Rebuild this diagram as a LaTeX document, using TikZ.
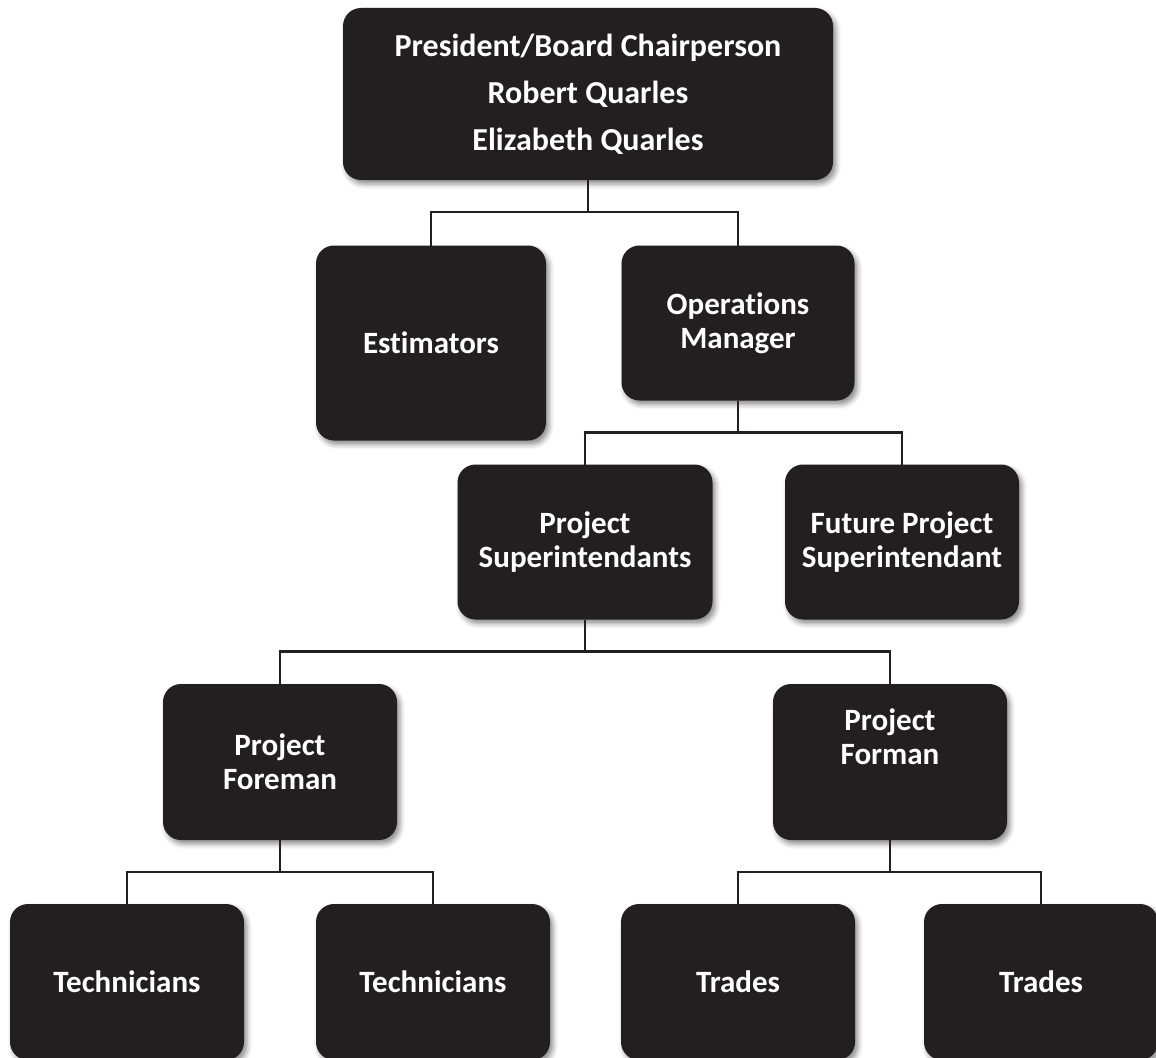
\documentclass[tikz,border=0pt]{standalone}
\usepackage{fontspec}
\setmainfont{Carlito}[Ligatures=NoCommon]
\usepackage{tikz}
\usetikzlibrary{shadows.blur}
\definecolor{boxblack}{HTML}{231F20}

\begin{document}
\begin{tikzpicture}[x=1pt, y=-1pt,
        orgbox/.style={shape=rectangle, rounded corners=18pt, fill=boxblack, inner sep=0pt, outer sep=0pt,
            blur shadow={shadow xshift=3pt, shadow yshift=-4pt, shadow blur radius=5pt, shadow opacity=45}},
        orgtext/.style={text=white, font=\fontsize{31}{34}\selectfont\bfseries, align=center},
        link/.style={draw=boxblack, line width=2.5pt}]
        \useasboundingbox (0, 0) rectangle (1156, 1057);

        \node[orgbox, minimum width=490pt, minimum height=172pt] (B1) at (588, 94) {};
        \node[orgtext, font=\fontsize{32}{47}\selectfont\bfseries] (T1) at (B1) {President/Board Chairperson\\Robert Quarles\\Elizabeth Quarles};

        \node[orgbox, minimum width=230pt, minimum height=195pt] (B2) at (431, 343) {};
        \node[orgtext] (T2) at (B2) {Estimators};
        \node[orgbox, minimum width=233pt, minimum height=155pt] (B3) at (738, 323) {};
        \node[orgtext] (T3) at (B3) {Operations\\Manager};

        \node[orgbox, minimum width=255pt, minimum height=155pt] (B4) at (585, 542) {};
        \node[orgtext] (T4) at (B4) {Project\\Superintendants};
        \node[orgbox, minimum width=234pt, minimum height=155pt] (B5) at (902, 542) {};
        \node[orgtext] (T5) at (B5) {Future Project\\Superintendant};

        \node[orgbox, minimum width=234pt, minimum height=156pt] (B6) at (280, 762) {};
        \node[orgtext] (T6) at (B6) {Project\\Foreman};
        \node[orgbox, minimum width=234pt, minimum height=156pt] (B7) at (890, 762) {};
        \node[orgtext] (T7) at ([yshift=25pt]B7.center) {Project\\Forman};

        \node[orgbox, minimum width=234pt, minimum height=156pt] (B8) at (127, 982) {};
        \node[orgtext] (T8) at (B8) {Technicians};
        \node[orgbox, minimum width=234pt, minimum height=156pt] (B9) at (433, 982) {};
        \node[orgtext] (T9) at (B9) {Technicians};
        \node[orgbox, minimum width=234pt, minimum height=156pt] (B10) at (738, 982) {};
        \node[orgtext] (T10) at (B10) {Trades};
        \node[orgbox, minimum width=234pt, minimum height=156pt] (B11) at (1041, 982) {};
        \node[orgtext] (T11) at (B11) {Trades};

        \draw[link] (B1.south) -- ++(0, 32) -| (B2.north);
        \draw[link] (B1.south) -- ++(0, 32) -| (B3.north);
        \draw[link] (B3.south) -- ++(0, 32) -| (B4.north);
        \draw[link] (B3.south) -- ++(0, 32) -| (B5.north);
        \draw[link] (B4.south) -- ++(0, 32) -| (B6.north);
        \draw[link] (B4.south) -- ++(0, 32) -| (B7.north);
        \draw[link] (B6.south) -- ++(0, 32) -| (B8.north);
        \draw[link] (B6.south) -- ++(0, 32) -| (B9.north);
        \draw[link] (B7.south) -- ++(0, 32) -| (B10.north);
        \draw[link] (B7.south) -- ++(0, 32) -| (B11.north);
    \end{tikzpicture}
\end{document}
